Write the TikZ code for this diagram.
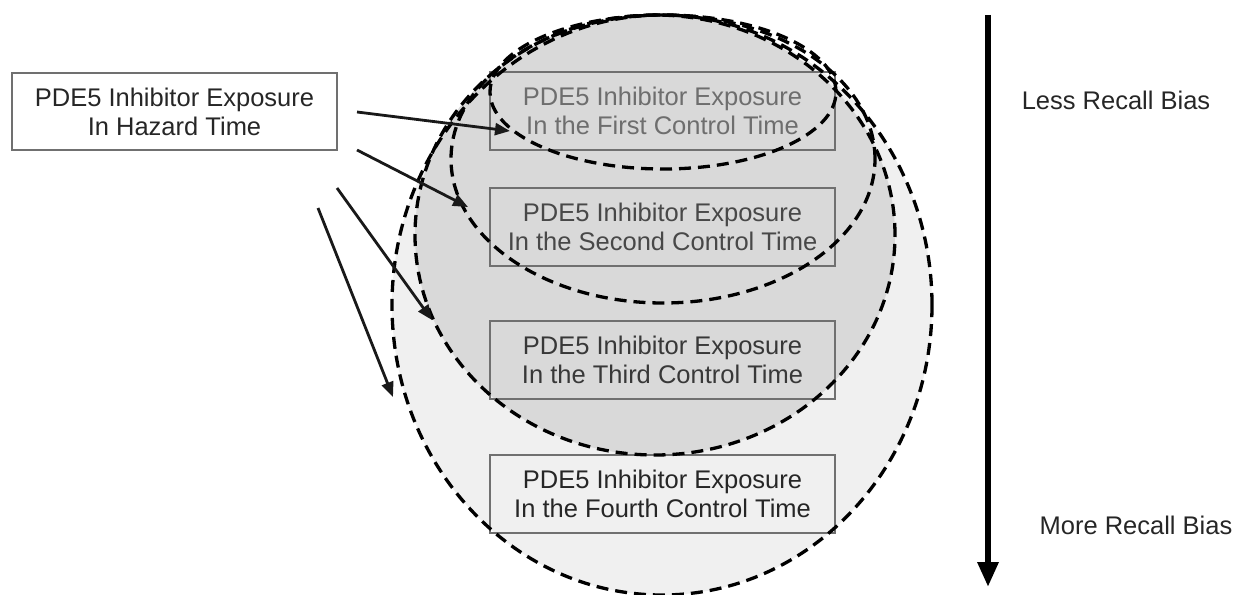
\documentclass[tikz,border=0pt]{standalone}
\usepackage{fontspec}
\setmainfont{Liberation Sans}
\usetikzlibrary{arrows.meta}
\definecolor{fillC}{HTML}{D9D9D9}
\definecolor{fillD}{HTML}{F0F0F0}
\definecolor{boxgray}{HTML}{707070}
\definecolor{tone}{HTML}{6E6E6E}
\definecolor{ttwo}{HTML}{484848}
\definecolor{tthree}{HTML}{383838}
\definecolor{tfour}{HTML}{262626}
\begin{document}
\begin{tikzpicture}[x=1pt,y=-1pt,
  every node/.style={font=\fontsize{25.5}{29}\selectfont, text=tfour},
  ctbox/.style={draw=boxgray, line width=1.5pt, minimum width=345pt, minimum height=78pt, inner sep=0pt, align=center},
  dashring/.style={draw=black, line width=3.3pt, dash pattern=on 12pt off 7pt},
  link/.style={draw=black!90, line width=2.8pt, -{Triangle[length=15pt,width=12pt]}},
  bias/.style={draw=black, line width=6pt, -{Triangle[length=25pt,width=20pt]}}]
\useasboundingbox (0,0) rectangle (1236,594);
% filled regions
\fill[fillD] (662,305) ellipse [x radius=270pt, y radius=290pt];
\fill[fillC] (655,235) ellipse [x radius=240pt, y radius=220pt];
% boxes
\node[ctbox, text=tone] (c1) at (662.5,111) {PDE5 Inhibitor Exposure\\In the First Control Time};
\node[ctbox, text=ttwo] (c2) at (662.5,227) {PDE5 Inhibitor Exposure\\In the Second Control Time};
\node[ctbox, text=tthree] (c3) at (662.5,360) {PDE5 Inhibitor Exposure\\In the Third Control Time};
\node[ctbox, text=tfour] (c4) at (662.5,494) {PDE5 Inhibitor Exposure\\In the Fourth Control Time};
\node[ctbox, minimum width=325pt, minimum height=77pt] (hz) at (174.5,111.5) {PDE5 Inhibitor Exposure\\In Hazard Time};
% dashed ellipses
\draw[dashring] (662,305) ellipse [x radius=270pt, y radius=290pt];
\draw[dashring] (655,235) ellipse [x radius=240pt, y radius=220pt];
\draw[dashring] (663,159) ellipse [x radius=212pt, y radius=144pt];
\draw[dashring] (663,92) ellipse [x radius=173pt, y radius=77pt];
% arrows
\coordinate (s1) at (357,112); \coordinate (e1) at (510,131);
\coordinate (s2) at (357,150); \coordinate (e2) at (468,207);
\coordinate (s3) at (337,188); \coordinate (e3) at (432,320);
\coordinate (s4) at (318,208); \coordinate (e4) at (393,397);
\draw[link] (s1) -- (e1);
\draw[link] (s2) -- (e2);
\draw[link] (s3) -- (e3);
\draw[link] (s4) -- (e4);
% bias axis
\coordinate (bt) at (988,15); \coordinate (bb) at (988,587);
\draw[bias] (bt) -- (bb);
\node (less) at (1116,100) {Less Recall Bias};
\node (more) at (1136,525) {More Recall Bias};
\end{tikzpicture}
\end{document}
